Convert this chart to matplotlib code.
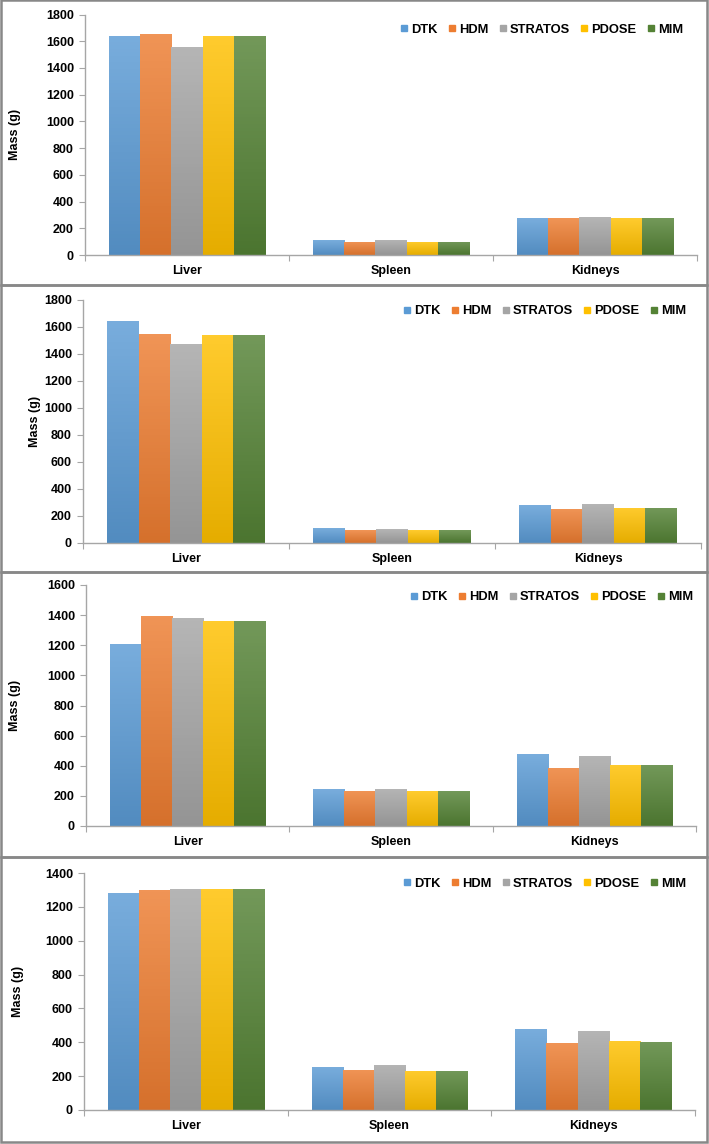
import matplotlib
matplotlib.use("Agg")
import matplotlib.pyplot as plt
import matplotlib.colors as mcolors
from matplotlib.lines import Line2D
from matplotlib.patches import Rectangle
import numpy as np

plt.rcParams['font.family'] = ['Liberation Sans', 'DejaVu Sans']
plt.rcParams['font.weight'] = 'bold'

organs = ["Liver", "Spleen", "Kidneys"]
methods = ["DTK", "HDM", "STRATOS", "PDOSE", "MIM"]
colors = ["#5B9BD5", "#ED7D31", "#A5A5A5", "#FFC000", "#548235"]

# mass (g) per method, one list per organ order [Liver, Spleen, Kidneys]
panel1 = {
    "DTK": [1640, 110, 275],
    "HDM": [1655, 100, 275],
    "STRATOS": [1560, 115, 282],
    "PDOSE": [1640, 100, 275],
    "MIM": [1640, 100, 275],
}
panel2 = {
    "DTK": [1642, 110, 278],
    "HDM": [1548, 95, 252],
    "STRATOS": [1475, 100, 289],
    "PDOSE": [1542, 95, 262],
    "MIM": [1542, 95, 262],
}
panel3 = {
    "DTK": [1206, 243, 476],
    "HDM": [1396, 235, 387],
    "STRATOS": [1379, 248, 465],
    "PDOSE": [1364, 230, 407],
    "MIM": [1364, 230, 407],
}
panel4 = {
    "DTK": [1284, 255, 479],
    "HDM": [1302, 238, 397],
    "STRATOS": [1308, 267, 467],
    "PDOSE": [1308, 232, 408],
    "MIM": [1308, 232, 403],
}
panels = [panel1, panel2, panel3, panel4]
ymaxes = [1800, 1800, 1600, 1400]

W, H = 709, 1144
fig = plt.figure(figsize=(W / 100, H / 100), dpi=100)

# pixel layout: (x0, x1, ytop, ybot) of plot area, panel frame (top, bottom),
# legend center y, legend right x, ylabel center x
layout = [
    (85, 697, 14.5, 255, 0, 285, 30, 688, 15),
    (83, 701, 300, 543, 285, 572, 311, 691, 35),
    (86, 696, 585, 826, 572, 857, 597, 698, 15),
    (84, 695, 873, 1110, 857, 1142, 884, 691, 18),
]


def px(x, y):
    return x / W, 1 - y / H


def gradient_bar(ax, bar, color):
    c = np.array(mcolors.to_rgb(color))
    light = np.clip(c + (1 - c) * 0.18, 0, 1)
    dark = c * 0.9
    grad = np.linspace(0, 1, 64)[:, None, None]
    img = light * (1 - grad) + dark * grad
    x, y = bar.get_x(), bar.get_y()
    w, h = bar.get_width(), bar.get_height()
    im = ax.imshow(img, extent=(x, x + w, y, y + h), aspect='auto',
                   origin='upper', zorder=2)
    im.set_clip_path(bar)


n = len(methods)
bw = 0.153
xs = np.arange(len(organs))

for data, ymax, lay in zip(panels, ymaxes, layout):
    x0, x1, yt, yb, ft, fb, ly, lx, ylx = lay
    l, b = px(x0, yb)
    ax = fig.add_axes([l, b, (x1 - x0) / W, (yb - yt) / H])
    for i, m in enumerate(methods):
        bars = ax.bar(xs + (i - (n - 1) / 2) * bw, data[m], bw,
                      color=colors[i], zorder=1)
        for bar in bars:
            gradient_bar(ax, bar, colors[i])
    ax.set_xlim(-0.5, len(organs) - 0.5)
    ax.set_ylim(0, ymax)
    ax.set_yticks(np.arange(0, ymax + 1, 200))
    ax.set_xticks(np.arange(-0.5, len(organs), 1))
    ax.set_xticklabels([])
    ax.set_xticks(xs, minor=True)
    ax.set_xticklabels(organs, minor=True, fontsize=9, fontweight='bold')
    ax.tick_params(axis='x', which='minor', length=0, pad=7)
    ax.tick_params(axis='x', which='major', length=4, color='#A6A6A6')
    ax.tick_params(axis='y', length=4, color='#A6A6A6', labelsize=9, pad=4)
    for s in ['top', 'right']:
        ax.spines[s].set_visible(False)
    for s in ['left', 'bottom']:
        ax.spines[s].set_color('#A6A6A6')
        ax.spines[s].set_linewidth(1.0)
    for t in ax.get_yticklabels():
        t.set_fontweight('bold')
    fig.text(ylx / W, 1 - (yt + yb) / 2 / H, "Mass (g)", rotation=90,
             ha='center', va='center', fontsize=9, fontweight='bold')

    handles = [Line2D([], [], marker='s', linestyle='none', markersize=5,
                      color=c) for c in colors]
    fig.legend(handles, methods, loc='center right',
               bbox_to_anchor=px(lx, ly), ncol=5, frameon=False,
               handlelength=0.5, handletextpad=0.3, columnspacing=0.85,
               prop={'weight': 'bold', 'size': 9.3}, borderaxespad=0)

    fl, fbt = px(1, fb)
    frame = Rectangle((fl, fbt), 706 / W, (fb - ft) / H,
                      transform=fig.transFigure, fill=False,
                      edgecolor='#888888', linewidth=1.8)
    fig.add_artist(frame)

fig.savefig("out.png", dpi=100)
